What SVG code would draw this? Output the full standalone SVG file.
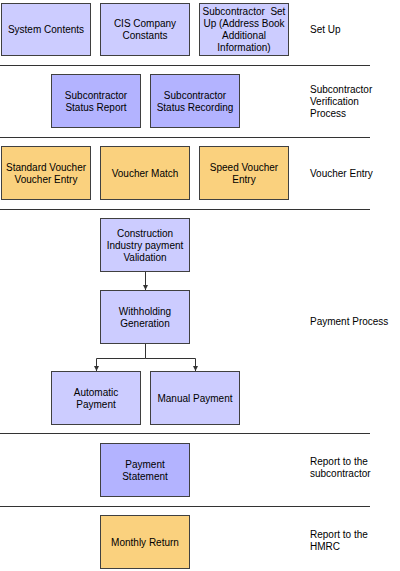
<svg xmlns="http://www.w3.org/2000/svg" width="400" height="571" viewBox="0 0 400 571">
<defs>
<style>
.b{stroke:#404040;stroke-width:1}
.l{fill:#CCCCFF}
.d{fill:#B3B3FF}
.o{fill:#FAD17E}
text{font-family:"Liberation Sans",Arial,sans-serif;font-size:10px;fill:#000}
.c{text-anchor:middle}
.sep{stroke:#333;stroke-width:1}
.cn{stroke:#333;stroke-width:1;fill:none}
</style>
<marker id="ah" markerWidth="6" markerHeight="5" refX="5" refY="2.5" orient="auto" markerUnits="userSpaceOnUse">
<path d="M0,0 L5,2.5 L0,5 Z" fill="#333"/>
</marker>
</defs>
<rect width="400" height="571" fill="#fff"/>
<g id="separators">
<line class="sep" x1="0" y1="65.5" x2="370" y2="65.5"/>
<line class="sep" x1="0" y1="137.5" x2="370" y2="137.5"/>
<line class="sep" x1="0" y1="209.5" x2="370" y2="209.5"/>
<line class="sep" x1="0" y1="433.5" x2="370" y2="433.5"/>
<line class="sep" x1="0" y1="506.5" x2="370" y2="506.5"/>
</g>
<g id="labels">
<text x="310" y="33">Set Up</text>
<text x="310" y="93">Subcontractor</text>
<text x="310" y="105">Verification</text>
<text x="310" y="117">Process</text>
<text x="310" y="177">Voucher Entry</text>
<text x="310" y="325">Payment Process</text>
<text x="310" y="465">Report to the</text>
<text x="310" y="477">subcontractor</text>
<text x="310" y="538">Report to the</text>
<text x="310" y="550">HMRC</text>
</g>
<g id="n1"><rect class="b l" x="1.5" y="3.5" width="89" height="52"/><text class="c" x="46" y="33">System Contents</text></g>
<g id="n2"><rect class="b l" x="100.5" y="3.5" width="89" height="52"/><text class="c" x="145" y="27">CIS Company</text><text class="c" x="145" y="39">Constants</text></g>
<g id="n3"><rect class="b l" x="199.5" y="3.5" width="89" height="52"/><text class="c" x="244" y="15">Subcontractor&#160; Set</text><text class="c" x="244" y="27">Up (Address Book</text><text class="c" x="244" y="39">Additional</text><text class="c" x="244" y="51">Information)</text></g>
<g id="n4"><rect class="b d" x="51.5" y="74.5" width="89" height="53"/><text class="c" x="96" y="99">Subcontractor</text><text class="c" x="96" y="111">Status Report</text></g>
<g id="n5"><rect class="b d" x="150.5" y="74.5" width="89" height="53"/><text class="c" x="195" y="99">Subcontractor</text><text class="c" x="195" y="111">Status Recording</text></g>
<g id="n6"><rect class="b o" x="1.5" y="146.5" width="89" height="53"/><text class="c" x="46" y="171">Standard Voucher</text><text class="c" x="46" y="183">Voucher Entry</text></g>
<g id="n7"><rect class="b o" x="100.5" y="146.5" width="89" height="53"/><text class="c" x="145" y="177">Voucher Match</text></g>
<g id="n8"><rect class="b o" x="199.5" y="146.5" width="89" height="53"/><text class="c" x="244" y="171">Speed Voucher</text><text class="c" x="244" y="183">Entry</text></g>
<g id="n9"><rect class="b l" x="100.5" y="218.5" width="89" height="53"/><text class="c" x="145" y="237">Construction</text><text class="c" x="145" y="249">Industry payment</text><text class="c" x="145" y="261">Validation</text></g>
<g id="n10"><rect class="b l" x="100.5" y="290.5" width="89" height="53"/><text class="c" x="145" y="315">Withholding</text><text class="c" x="145" y="327">Generation</text></g>
<g id="n11"><rect class="b l" x="51.5" y="371.5" width="89" height="53"/><text class="c" x="96" y="396">Automatic</text><text class="c" x="96" y="408">Payment</text></g>
<g id="n12"><rect class="b l" x="150.5" y="371.5" width="89" height="53"/><text class="c" x="195" y="402">Manual Payment</text></g>
<g id="n13"><rect class="b d" x="100.5" y="443.5" width="89" height="53"/><text class="c" x="145" y="468">Payment</text><text class="c" x="145" y="480">Statement</text></g>
<g id="n14"><rect class="b o" x="100.5" y="515.5" width="89" height="53"/><text class="c" x="145" y="546">Monthly Return</text></g>
<g id="connectors">
<path class="cn" d="M145.5,272 V290" marker-end="url(#ah)"/>
<path class="cn" d="M145.5,344 V358.5 H96.5 V371" marker-end="url(#ah)"/>
<path class="cn" d="M145.5,358.5 H195.5 V371" marker-end="url(#ah)"/>
</g>
</svg>
